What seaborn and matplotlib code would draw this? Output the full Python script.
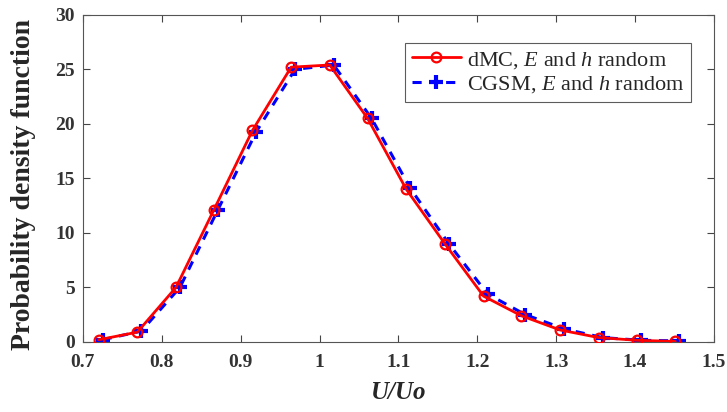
import numpy as np
import pandas as pd
import matplotlib
matplotlib.use("Agg")
import matplotlib.pyplot as plt
import seaborn as sns

x_dmc = [0.720, 0.769, 0.818, 0.866, 0.915, 0.964, 1.013, 1.061,
         1.110, 1.159, 1.208, 1.256, 1.305, 1.354, 1.403, 1.451]
y_dmc = [0.2, 0.9, 5.0, 12.1, 19.4, 25.2, 25.4, 20.5,
         14.0, 9.0, 4.2, 2.4, 1.1, 0.4, 0.15, 0.05]
x_cgsm = [0.725, 0.774, 0.823, 0.871, 0.920, 0.969, 1.018, 1.066,
          1.115, 1.164, 1.213, 1.261, 1.310, 1.359, 1.408, 1.456]
y_cgsm = [0.2, 1.0, 5.0, 12.1, 19.3, 25.0, 25.4, 20.5,
          14.1, 9.0, 4.4, 2.5, 1.2, 0.4, 0.15, 0.1]

sns.set_style("ticks")
plt.rcParams['font.family'] = ['Liberation Serif', 'DejaVu Serif']
plt.rcParams['mathtext.fontset'] = 'custom'
plt.rcParams['mathtext.rm'] = 'Liberation Serif'
plt.rcParams['mathtext.it'] = 'Liberation Serif:italic'

fig = plt.figure(figsize=(7.27, 4.12), dpi=100)
ax = fig.add_axes([0.114, 0.170, 0.868, 0.794])

sns.lineplot(x=x_dmc, y=y_dmc, ax=ax, color="red", lw=2, marker="o",
             markersize=7, markerfacecolor="none", markeredgecolor="red",
             markeredgewidth=1.6, label=r"dMC, $E$ and $h$ random", zorder=3)
sns.lineplot(x=x_cgsm, y=y_cgsm, ax=ax, color="blue", lw=2.2, marker="+",
             markersize=10, markeredgecolor="blue", markeredgewidth=3,
             linestyle=(0, (3, 2.5)), label=r"CGSM, $E$ and $h$ random", zorder=2)

ax.set_xlim(0.7, 1.5)
ax.set_ylim(0, 30)
ax.set_xticks(np.arange(0.7, 1.51, 0.1))
ax.set_xticklabels(["0.7", "0.8", "0.9", "1", "1.1", "1.2", "1.3", "1.4", "1.5"])
ax.set_yticks(range(0, 31, 5))
ax.tick_params(direction="in", top=True, right=True, length=5,
               width=0.8, color="#444444", labelsize=14, labelcolor="#333333")
ax.tick_params(axis="x", pad=9)
ax.tick_params(axis="y", pad=6)
for lab in ax.get_xticklabels() + ax.get_yticklabels():
    lab.set_fontweight("bold")
for sp in ax.spines.values():
    sp.set_color("#555555")
    sp.set_linewidth(0.8)

ax.set_xlabel("U/Uo", fontsize=18, fontweight="bold", fontstyle="italic", labelpad=7)
ax.set_ylabel("Probability density function", fontsize=20, fontweight="bold")
ax.yaxis.set_label_coords(-0.074, 0.48)

leg = ax.legend(loc="upper right", bbox_to_anchor=(0.982, 0.948), fontsize=16,
                frameon=True, fancybox=False, edgecolor="#333333",
                handlelength=2.2, borderpad=0.3, labelspacing=0.15,
                handletextpad=0.3)
leg.get_frame().set_linewidth(0.8)

fig.savefig("out.png", dpi=100)
